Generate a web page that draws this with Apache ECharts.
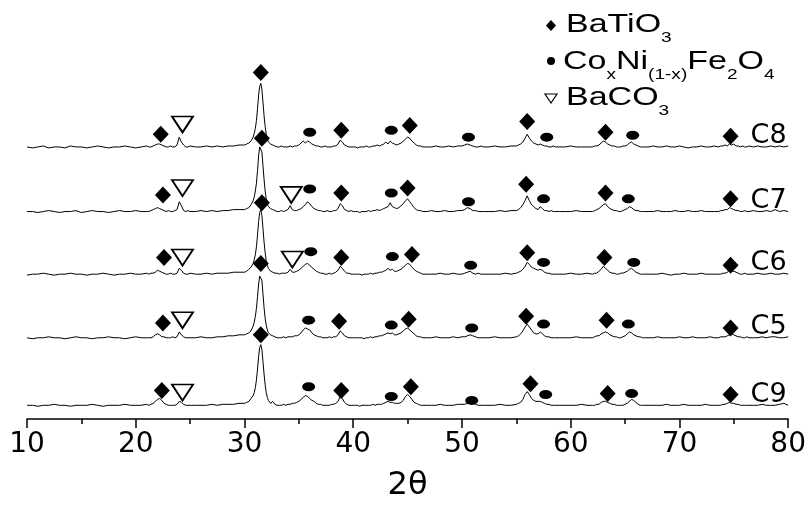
<!DOCTYPE html>
<html><head><meta charset="utf-8">
<script src="https://cdn.jsdelivr.net/npm/echarts@6/dist/echarts.min.js"></script>
<style>html,body{margin:0;padding:0;background:#fff}#c{width:809px;height:507px}</style>
</head><body><div id="c"></div>
<script>
// 2-theta sampling (degrees)
const twoTheta = [
10,10.5,11,11.5,12,12.5,13,13.5,14,14.5,15,15.5,16,16.5,17,17.5,18,18.5,19,19.5,20,20.5,21,
21.2,21.4,21.6,21.8,22,22.2,22.4,22.6,22.8,23,23.2,23.4,23.6,23.8,24,24.2,24.4,24.6,24.8,25,
25.5,26,26.5,27,27.5,28,28.5,29,29.5,
30,30.1,30.2,30.3,30.4,30.5,30.6,30.7,30.8,30.9,31,31.1,31.2,31.3,31.4,31.5,31.6,31.7,31.8,31.9,32,32.1,32.2,32.3,32.4,32.5,32.6,32.7,32.8,32.9,33,
33.2,33.4,33.6,33.8,34,34.2,34.4,34.6,34.8,35,35.2,35.4,35.6,35.8,36,36.2,36.4,36.6,36.8,37,37.2,37.4,37.6,37.8,38,38.2,38.4,38.6,38.8,39,39.2,39.4,39.6,39.8,40,
40.2,40.4,40.6,40.8,41,41.2,41.4,41.6,41.8,42,42.2,42.4,42.6,42.8,43,43.2,43.4,43.6,43.8,44,44.2,44.4,44.6,44.8,45,45.2,45.4,45.6,45.8,46,46.2,46.4,
46.8,47.2,47.6,48,48.4,48.8,49.2,49.6,
50,50.25,50.5,50.75,51,51.25,51.5,51.75,52,
52.5,53,53.5,54,54.5,
55,55.2,55.4,55.6,55.8,56,56.2,56.4,56.6,56.8,57,57.2,57.4,57.6,57.8,58,58.2,58.4,58.6,
59,59.5,60,60.5,61,61.5,
62,62.2,62.4,62.6,62.8,63,63.2,63.4,63.6,63.8,64,64.2,64.4,64.6,64.8,65,65.2,65.4,65.6,65.8,66,66.2,66.4,66.6,66.8,
67.2,67.6,68,68.4,68.8,69.2,69.6,70,70.4,70.8,71.2,71.6,72,72.4,72.8,73.2,
73.6,73.8,74,74.2,74.4,74.6,74.8,75,75.2,75.4,75.6,75.8,76,76.2,76.4,
76.8,77.2,77.6,78,78.4,78.8,79.2,79.6,80
];

// intensities (a.u., background-subtracted)
const intensityC8 = [
1,0,1,2,0,1,1,0,2,1,1,0,1,2,1,0,1,1,2,1,0,1,2,
1,1,2,3,4,4,3,2,1,1,2,1,1,3,11,6,3,1,1,2,
1,1,2,1,2,1,2,2,3,
3,3,4,4,5,6,7,9,11,15,20,28,40,54,63,66,60,47,33,22,14,9,6,5,4,3,3,2,2,1,1,
1,2,1,1,1,2,1,2,2,3,5,7,5,7,6,4,3,2,2,1,1,2,1,1,1,2,2,4,8,6,3,2,1,1,1,
1,0,1,1,1,2,1,1,2,2,3,2,3,4,6,4,7,5,4,3,4,5,7,9,11,10,7,5,3,2,2,1,
1,1,2,1,1,2,1,2,
2,3,4,3,2,1,1,2,1,
1,2,1,1,2,
2,3,4,6,10,14,10,7,5,4,3,4,3,2,2,1,1,2,1,
1,1,2,1,1,1,
1,2,2,3,5,7,6,4,3,2,2,1,1,1,2,2,3,5,6,4,3,2,1,1,1,
1,2,1,1,2,1,1,2,1,0,1,1,2,1,1,2,
1,2,2,3,2,4,3,4,2,2,1,2,1,1,2,
1,2,1,1,2,1,2,1,2
];
const intensityC7 = [
1,1,0,1,2,1,0,1,1,2,0,1,2,1,1,0,1,2,1,1,2,1,1,
1,2,3,4,5,4,3,2,1,2,1,1,2,3,11,7,2,1,2,1,
1,2,1,2,1,2,2,3,3,
3,4,4,5,5,6,8,10,12,16,22,30,43,58,67,69,62,48,34,22,14,9,6,5,4,3,3,2,2,2,1,
1,2,1,2,3,7,3,2,2,3,4,6,8,11,9,6,4,3,2,2,1,1,2,1,1,2,2,4,9,7,3,2,1,2,1,
1,1,0,1,1,1,2,1,2,2,3,2,3,4,5,6,10,6,5,4,5,7,9,12,14,11,8,5,3,2,2,1,
1,2,1,1,2,1,1,2,
2,3,5,4,2,2,1,1,1,
1,1,2,1,2,
2,3,5,8,12,17,12,8,6,4,3,6,4,2,2,1,2,1,1,
1,1,1,2,1,1,
1,2,3,4,6,8,9,6,4,3,2,2,1,1,2,3,4,6,5,3,2,2,1,1,1,
1,1,2,1,1,1,2,1,1,2,1,1,2,1,1,1,
1,2,2,3,3,5,4,3,2,2,1,1,2,1,1,
2,1,1,2,1,3,1,2,1
];
const intensityC6 = [
0,1,1,2,1,0,1,1,2,1,1,0,1,1,2,1,0,1,1,2,1,1,2,
1,2,2,3,5,4,3,2,1,1,2,1,1,2,7,5,2,1,1,2,
1,1,2,1,2,2,2,3,3,
3,4,4,5,6,7,8,10,12,16,21,29,41,55,64,67,61,48,34,23,15,10,7,5,4,4,3,3,2,2,2,
1,2,2,2,3,6,3,3,4,5,7,9,11,12,10,8,6,4,3,2,2,1,1,2,1,2,3,5,9,7,4,2,2,1,1,
1,1,1,0,1,1,1,2,1,2,2,3,3,4,5,7,5,6,4,4,5,6,8,10,12,11,8,6,4,3,2,1,
1,1,1,2,1,1,2,1,
1,2,3,4,2,1,2,1,1,
1,1,1,2,1,
2,3,4,6,9,13,11,8,7,6,5,6,5,3,2,2,1,1,1,
1,1,2,1,1,2,
1,2,2,4,6,9,7,5,3,2,2,1,1,2,2,3,4,6,7,5,3,2,1,1,1,
1,1,1,2,1,0,1,1,2,1,1,1,2,1,1,1,
1,1,2,2,3,5,4,4,3,2,1,1,2,1,1,
1,2,1,1,2,1,1,2,1
];
const intensityC5 = [
1,0,1,1,2,1,1,0,1,2,1,1,0,1,1,2,1,1,0,1,2,1,1,
1,1,2,4,5,4,2,2,1,1,1,2,1,2,7,4,2,1,1,1,
1,2,1,1,2,2,3,3,4,
4,4,5,5,6,7,8,10,13,17,23,31,43,56,64,66,60,46,32,21,14,9,6,5,4,3,3,2,2,1,1,
1,1,2,1,2,2,2,3,3,4,6,9,11,10,9,6,4,3,2,2,1,1,1,2,1,2,2,4,8,6,3,2,1,1,1,
1,1,1,1,0,1,1,2,1,2,2,3,3,4,5,6,5,6,4,4,5,6,8,10,11,9,7,5,3,2,2,1,
1,1,2,1,1,1,2,1,
2,2,3,4,3,2,1,1,1,
1,2,1,1,1,
2,3,5,8,12,15,12,9,6,5,5,7,5,3,2,2,1,1,1,
1,1,1,2,1,1,
1,2,3,3,5,6,7,6,4,3,2,2,1,1,2,3,5,7,6,4,3,2,2,1,1,
1,1,2,1,1,1,1,2,1,1,2,1,1,1,2,1,
1,2,2,2,3,4,5,4,3,2,2,1,1,2,1,
1,1,2,1,2,2,1,1,2
];
const intensityC9 = [
1,1,0,1,1,2,1,1,0,1,1,1,2,1,0,1,1,1,2,1,1,1,2,
1,2,3,5,7,8,6,3,2,1,1,1,1,2,5,4,2,1,1,1,
1,1,1,2,1,2,2,2,3,
3,3,4,4,5,7,8,9,11,14,19,27,38,51,60,63,58,46,33,22,14,9,6,4,3,3,5,3,2,1,1,
1,1,2,1,2,2,3,3,4,5,7,9,11,10,8,6,5,3,2,2,1,1,1,1,2,2,3,5,10,8,4,2,1,1,1,
1,1,0,1,1,1,1,1,2,1,2,2,2,3,4,5,4,4,3,3,3,4,6,10,12,10,7,4,3,2,1,1,
1,1,1,2,1,1,1,2,
2,2,3,4,3,2,1,1,1,
1,1,2,1,1,
2,3,4,7,12,15,12,8,6,5,5,5,4,3,2,2,1,1,1,
1,1,1,1,2,1,
1,1,2,2,4,5,5,4,3,2,2,1,1,1,1,2,3,5,7,6,4,2,1,1,1,
1,1,1,1,2,1,1,1,2,1,1,1,1,2,1,1,
1,1,2,2,3,4,3,3,2,2,1,1,1,1,1,
1,1,2,1,1,1,2,3,1
];

const sampleNames = ['C8', 'C7', 'C6', 'C5', 'C9'];
const stackOffsets = [277, 211, 147, 82, 13];

// phase markers: [2theta, height above the pattern's baseline]
const batio3C8 = [[22.3,14],[31.5,77],[38.9,18],[45.2,23],[56.0,27],[63.2,16],[74.7,12]];
const ferriteC8 = [[36.0,16],[43.5,18],[50.6,11],[57.8,11],[65.7,13]];
const baco3C8 = [[24.3,24]];
const batio3C7 = [[22.5,18],[31.6,76],[38.9,20],[45.0,25],[55.9,29],[63.2,20],[74.7,14]];
const ferriteC7 = [[36.0,24],[43.5,20],[50.6,11],[57.5,14],[65.3,14]];
const baco3C7 = [[24.3,25],[34.3,18]];
const batio3C6 = [[22.6,18],[31.6,74],[38.9,18],[45.4,21],[56.0,23],[63.1,18],[74.7,10]];
const ferriteC6 = [[36.1,24],[43.6,19],[50.8,10],[57.5,13],[65.8,13]];
const baco3C6 = [[24.3,18],[34.4,16]];
const batio3C5 = [[22.5,16],[31.5,77],[38.7,18],[45.1,20],[55.9,23],[63.3,19],[74.7,11]];
const ferriteC5 = [[35.9,19],[43.5,14],[50.9,11],[57.5,15],[65.3,15]];
const baco3C5 = [[24.3,19]];
const batio3C9 = [[22.4,16],[31.5,73],[38.9,16],[45.3,20],[56.3,23],[63.4,13],[74.7,12]];
const ferriteC9 = [[35.9,20],[43.5,10],[50.9,6],[57.7,12],[65.6,13]];
const baco3C9 = [[24.3,14]];

const xTicks = [10, 20, 30, 40, 50, 60, 70, 80];

const intensities = [intensityC8, intensityC7, intensityC6, intensityC5, intensityC9];
const batio3 = [batio3C8, batio3C7, batio3C6, batio3C5, batio3C9];
const ferrite = [ferriteC8, ferriteC7, ferriteC6, ferriteC5, ferriteC9];
const baco3 = [baco3C8, baco3C7, baco3C6, baco3C5, baco3C9];

const FONT = '"Liberation Sans", Arial, Helvetica, sans-serif';
const WIDE = '"DejaVu Sans", "Liberation Sans", sans-serif';
const ELLIPSE = 'path://M0,4.5A6.5,4.5,0,1,1,13,4.5A6.5,4.5,0,1,1,0,4.5Z';
const DOWN_TRI = 'path://M0,0L20,0L10,15Z';

const series = [];
sampleNames.forEach((name, k) => {
  const off = stackOffsets[k];
  series.push({
    type: 'line', name: name, showSymbol: false, symbol: 'none',
    lineStyle: { color: '#000', width: 1 }, z: 2,
    data: twoTheta.map((t, i) => [t, intensities[k][i] + off])
  });
});
sampleNames.forEach((name, k) => {
  const off = stackOffsets[k];
  series.push({
    type: 'scatter', symbol: 'diamond', symbolSize: [16, 17], z: 5,
    itemStyle: { color: '#000', opacity: 1 },
    data: batio3[k].map(p => [p[0], p[1] + off])
  });
  series.push({
    type: 'scatter', symbol: ELLIPSE, symbolSize: [13, 9], z: 5,
    itemStyle: { color: '#000', opacity: 1 },
    data: ferrite[k].map(p => [p[0], p[1] + off])
  });
  series.push({
    type: 'scatter', symbol: DOWN_TRI, symbolSize: [21, 16], z: 5,
    itemStyle: { color: '#fff', borderColor: '#000', borderWidth: 1.8, opacity: 1 },
    data: baco3[k].map(p => [p[0], p[1] + off])
  });
});
series.push({
  type: 'scatter', symbolSize: 0, z: 6, silent: true,
  itemStyle: { color: '#000', opacity: 1 },
  label: { show: true, position: 'inside', formatter: p => p.name,
           fontSize: 27, color: '#000', opacity: 1, fontFamily: WIDE },
  data: sampleNames.map((n, k) => ({ name: n, value: [78.2, stackOffsets[k] + 12] }))
});

const main = { fontSize: 25, lineHeight: 40, fontFamily: FONT, fill: '#000' };
const sub = { fontSize: 14, lineHeight: 14, fontFamily: FONT, fill: '#000', verticalAlign: 'bottom' };
function legendText(x, y, str) {
  return { type: 'text', x: x, y: y, scaleX: 1.36, z: 10,
    style: { text: str, rich: { m: main, s: sub }, verticalAlign: 'middle', align: 'left',
             fill: '#000', fontFamily: FONT } };
}

const chart = echarts.init(document.getElementById('c'), null, { renderer: 'canvas' });
chart.setOption({
  animation: false,
  backgroundColor: '#fff',
  grid: { left: 27, right: 19, top: 8, bottom: 79 },
  xAxis: {
    type: 'value', min: xTicks[0], max: xTicks[xTicks.length - 1], interval: 10,
    name: '2θ', nameLocation: 'middle', nameGap: 51,
    nameTextStyle: { fontSize: 32, color: '#000', fontFamily: WIDE },
    axisLine: { show: true, lineStyle: { color: '#000', width: 1.5 } },
    axisTick: { show: true, length: 9, lineStyle: { color: '#000', width: 1.5 } },
    minorTick: { show: true, splitNumber: 2, length: 5, lineStyle: { color: '#000', width: 1.5 } },
    axisLabel: { fontSize: 28, color: '#000', margin: 12, fontFamily: WIDE },
    splitLine: { show: false }
  },
  yAxis: { type: 'value', min: 0, max: 420, show: false },
  series: series,
  graphic: [
    { type: 'polygon', z: 10, shape: { points: [[551, 20], [556, 25.5], [551, 31], [546, 25.5]] }, style: { fill: '#000' } },
    legendText(566, 25, '{m|BaTiO}{s|3}'),
    { type: 'circle', z: 10, shape: { cx: 551, cy: 61, r: 4 }, style: { fill: '#000' } },
    legendText(563, 62, '{m|Co}{s|x}{m|Ni}{s|(1-x)}{m|Fe}{s|2}{m|O}{s|4}'),
    { type: 'polygon', z: 10, shape: { points: [[545, 94], [557, 94], [551, 103]] }, style: { fill: '#fff', stroke: '#000', lineWidth: 1.2 } },
    legendText(566, 98, '{m|BaCO}{s|3}')
  ]
});
</script></body></html>
